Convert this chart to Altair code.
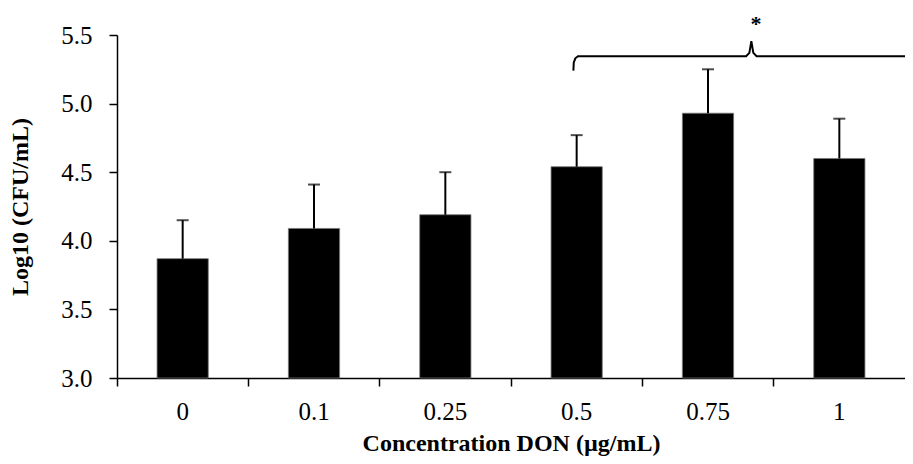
import altair as alt
import pandas as pd

# Data
conc = ["0", "0.1", "0.25", "0.5", "0.75", "1"]
means = [3.87, 4.09, 4.19, 4.54, 4.93, 4.60]
upper = [4.15, 4.41, 4.50, 4.77, 5.25, 4.89]

# significance brace (x in band units 0..6, y in data units)
brace_x = [3.475, 3.478, 3.49, 3.51, 4.79, 4.815, 4.83, 4.845, 4.87, 6.0]
brace_y = [5.24, 5.30, 5.33, 5.345, 5.345, 5.37, 5.455, 5.37, 5.345, 5.345]
star_x = [4.865]
star_y = [5.58]
star_text = ["*"]

W, H = 788, 343
FONT = "Liberation Serif"

df = pd.DataFrame({"conc": conc, "mean": means, "upper": upper})
brace_df = pd.DataFrame({"bx": brace_x, "by": brace_y, "i": list(range(len(brace_x)))})
star_df = pd.DataFrame({"sx": star_x, "sy": star_y, "t": star_text})

xscale = alt.Scale(domain=conc, paddingInner=0, paddingOuter=0)
yscale = alt.Scale(domain=[3.0, 5.5], nice=False, zero=False)

xaxis = alt.Axis(
    title="Concentration DON (µg/mL)",
    bandPosition=0,
    labelAngle=0,
    labelPadding=13,
    titlePadding=7,
    labelFont=FONT, labelFontSize=25, labelColor="black",
    titleFont=FONT, titleFontWeight="bold", titleFontSize=24, titleColor="black",
)
yaxis = alt.Axis(
    title="Log10 (CFU/mL)",
    values=[3.0, 3.5, 4.0, 4.5, 5.0, 5.5],
    format=".1f",
    labelPadding=17,
    titlePadding=28,
    labelFont=FONT, labelFontSize=25, labelColor="black",
    titleFont=FONT, titleFontWeight="bold", titleFontSize=24, titleColor="black",
)

base = alt.Chart(df)
bars = base.mark_bar(color="black", stroke="#777", strokeWidth=0.8,
                     width=alt.RelativeBandSize(0.39)).encode(
    x=alt.X("conc:N", scale=xscale, axis=xaxis, sort=conc),
    y=alt.Y("mean:Q", scale=yscale, axis=yaxis),
    y2=alt.datum(3.0),
)
err = base.mark_rule(color="black", strokeWidth=2).encode(
    x=alt.X("conc:N", sort=conc),
    y=alt.Y("mean:Q", scale=yscale, axis=yaxis),
    y2="upper:Q",
)
caps = base.mark_tick(color="black", thickness=2, size=12, orient="horizontal").encode(
    x=alt.X("conc:N", sort=conc),
    y=alt.Y("upper:Q", scale=yscale, axis=yaxis),
)
band_layer = alt.layer(bars, err, caps)

qx = alt.Scale(domain=[0, 6], nice=False, zero=False)
brace = alt.Chart(brace_df).mark_line(color="black", strokeWidth=2).encode(
    x=alt.X("bx:Q", scale=qx, axis=None),
    y=alt.Y("by:Q", scale=yscale, axis=yaxis),
    order="i:Q",
)
star = alt.Chart(star_df).mark_text(font=FONT, fontSize=22, fontWeight="bold",
                                    color="black", baseline="middle").encode(
    x=alt.X("sx:Q", scale=qx, axis=None),
    y=alt.Y("sy:Q", scale=yscale, axis=yaxis),
    text="t:N",
)
q_layer = alt.layer(brace, star)

chart = alt.layer(band_layer, q_layer).resolve_scale(x="independent").properties(
    width=W,
    height=H,
    autosize=alt.AutoSizeParams(type="none"),
    padding={"left": 109, "top": 27, "right": 0, "bottom": 78},
    background="white",
).configure_view(stroke=None).configure_axis(
    grid=False,
    domainColor="black",
    domainWidth=1.5,
    tickColor="black",
    tickWidth=1.5,
    tickSize=8,
)

chart.save("out.html", embed_options={"renderer": "svg", "actions": False})
